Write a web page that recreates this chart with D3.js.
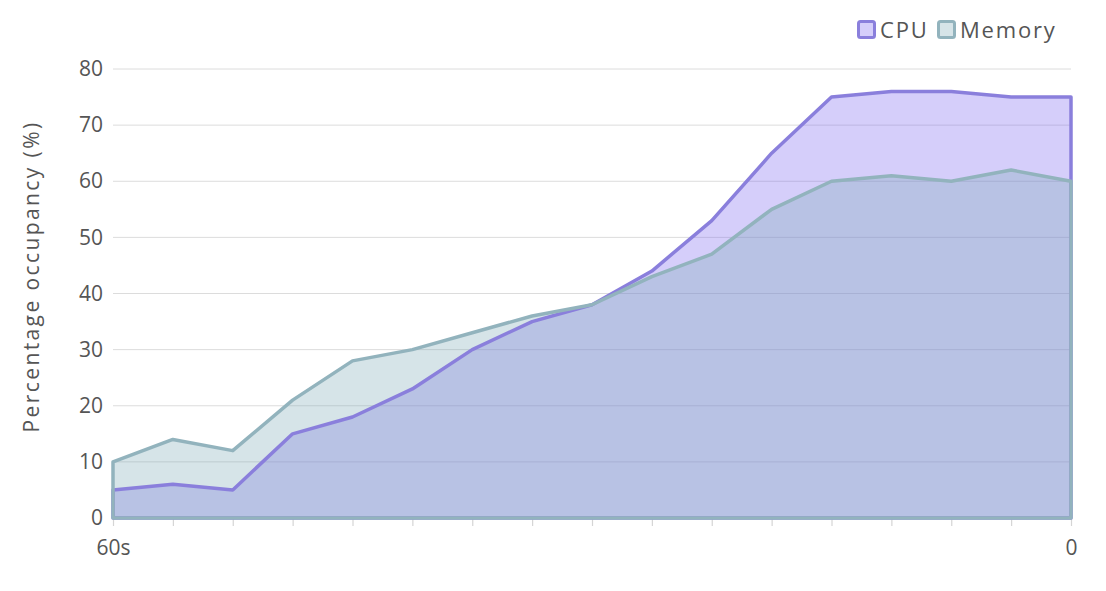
<!DOCTYPE html>
<html><head><meta charset="utf-8">
<script src="https://cdn.jsdelivr.net/npm/d3@7"></script>
<style>
html,body{margin:0;padding:0;background:#fff;}
svg{display:block;font-family:"Open Sans","Noto Sans",sans-serif;}
</style></head>
<body>
<svg id="chart" width="1106" height="591"></svg>
<script>
const categories = ["60s","","","","","","","","","","","","","","","","0"];
const cpuValues = [5,6,5,15,18,23,30,35,38,44,53,65,75,76,76,75,75];
const memoryValues = [10,14,12,21,28,30,33,36,38,43,47,55,60,61,60,62,60];
const yTicks = [0,10,20,30,40,50,60,70,80];
const seriesNames = ["CPU","Memory"];

const svg = d3.select("#chart");
const margin = {left:113, right:35, top:69, bottom:73};
const W = 1106, H = 591;
const x = d3.scalePoint().domain(d3.range(categories.length)).range([margin.left, W - margin.right]);
const y = d3.scaleLinear().domain([0,80]).range([H - margin.bottom, margin.top]);

const colors = {
  CPU: {line:"#8a7fdc", fill:"rgba(123,104,238,0.32)"},
  Memory: {line:"#92b3bd", fill:"rgba(120,165,180,0.30)"}
};

// grid
svg.append("g").selectAll("line").data(yTicks).join("line")
  .attr("x1", margin.left).attr("x2", W - margin.right)
  .attr("y1", d => y(d)).attr("y2", d => y(d))
  .attr("stroke", "#dcdcdc").attr("stroke-width", 1);

// y tick labels
const yAxis = svg.append("g").attr("transform", `translate(${margin.left},0)`)
  .call(d3.axisLeft(y).tickValues(yTicks).tickSize(0).tickPadding(10));
yAxis.select(".domain").remove();
yAxis.selectAll("text").attr("font-size", 21).attr("fill", "#555").attr("font-family", "'Open Sans','Noto Sans',sans-serif");

// x axis ticks
const xAxis = svg.append("g").attr("transform", `translate(0,${y(0)})`)
  .call(d3.axisBottom(x).tickSize(8).tickPadding(14).tickFormat(i => categories[i]));
xAxis.select(".domain").remove();
xAxis.selectAll("line").attr("stroke", "#d5d5d5").attr("stroke-width", 1.2);
xAxis.selectAll("text").attr("font-size", 21).attr("fill", "#555").attr("font-family", "'Open Sans','Noto Sans',sans-serif");

// y axis title
svg.append("text")
  .attr("transform", `translate(39,${(y(0)+y(80))/2 - 17}) rotate(-90)`)
  .attr("text-anchor", "middle").attr("font-size", 21).attr("letter-spacing", 2.4).attr("fill", "#555")
  .text("Percentage occupancy (%)");

const area = d3.area().x((d,i) => x(i)).y0(y(0)).y1(d => y(d));
function outline(vals){
  const pts = vals.map((d,i) => [x(i), y(d)]);
  return d3.line()([[x(0), y(0)], ...pts, [x(vals.length-1), y(0)]]) + "Z";
}

[["CPU", cpuValues], ["Memory", memoryValues]].forEach(([name, vals]) => {
  svg.append("path").attr("d", area(vals)).attr("fill", colors[name].fill);
});
[["CPU", cpuValues], ["Memory", memoryValues]].forEach(([name, vals]) => {
  svg.append("path").attr("d", outline(vals)).attr("fill", "none")
    .attr("stroke", colors[name].line).attr("stroke-width", 3.5).attr("stroke-linejoin", "round");
});

// legend
const legend = svg.append("g");
const legendItems = [{name:"CPU", x:857}, {name:"Memory", x:937}];
legendItems.forEach(it => {
  const g = legend.append("g").attr("transform", `translate(${it.x},20)`);
  g.append("rect").attr("x",1.5).attr("y",1.5).attr("width",16).attr("height",16).attr("rx",2)
    .attr("fill", colors[it.name].fill).attr("stroke", colors[it.name].line).attr("stroke-width",3);
  g.append("text").attr("x", 23).attr("y", 18).attr("font-size", 22).attr("letter-spacing", 1.8).attr("fill", "#555")
    .text(it.name);
});
</script>
</body></html>
